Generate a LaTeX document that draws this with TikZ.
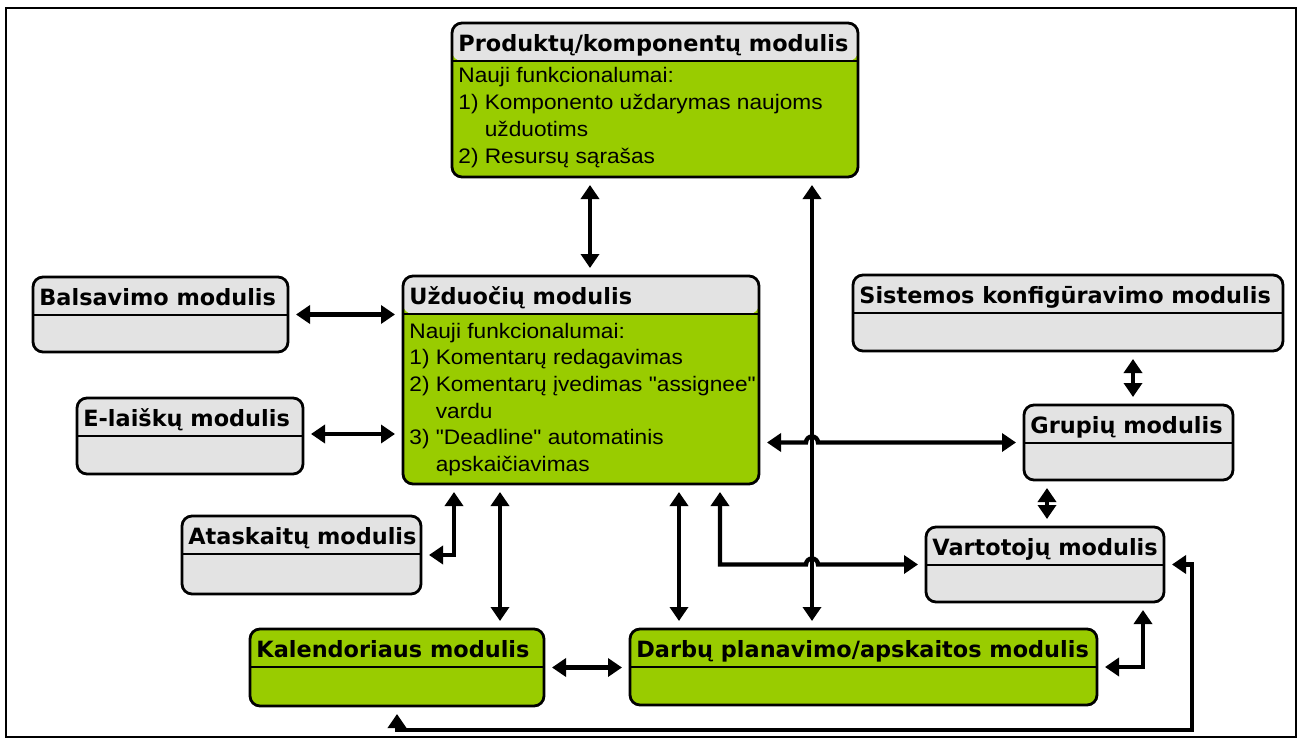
\documentclass[tikz,border=0pt]{standalone}
\usepackage{fontspec}
\setmainfont{Liberation Sans}
\newfontfamily\antrfont{DejaVu Sans}
\newfontfamily\tekstfont[FakeStretch=1.08]{Liberation Sans}
\usetikzlibrary{arrows.meta,fit}
\definecolor{zalia}{RGB}{153,204,0}
\definecolor{pilka}{RGB}{227,227,227}
\tikzstyle{bord}=[line width=1.4pt]
\tikzstyle{deze}=[draw, bord, rounded corners=5pt, inner sep=0pt, outer sep=0pt]
\tikzstyle{antraste}=[anchor=base west, inner sep=0pt, font=\antrfont\bfseries\fontsize{11.2}{13}\selectfont]
\tikzstyle{tekstas}=[anchor=base west, inner sep=0pt, font=\tekstfont\fontsize{10.5}{13.35}\selectfont]
\tikzstyle{rodykle}=[line width=2.2pt, {Triangle[length=7pt,width=9pt]}-{Triangle[length=7pt,width=9pt]}, shorten <=4pt, shorten >=4pt]
% #1 vardas, #2 #3 kampai, #4 antrastes spalva, #5 spalva, #6 pavadinimas
\newcommand{\modulis}[6]{
  \node[deze, fill=#5, fit={(#2) (#3)},
    path picture={\fill[#4] (path picture bounding box.north west) rectangle ([yshift=-19pt]path picture bounding box.north east);
      \draw[bord] ([yshift=-19pt]path picture bounding box.north west) -- ([yshift=-19pt]path picture bounding box.north east);}] (#1) {};
  \node[antraste] (#1-t) at ([shift={(3pt,-14pt)}]#1.north west) {#6};
}

\begin{document}
\begin{tikzpicture}[x=0.5pt,y=-0.5pt]
\useasboundingbox (0,0) rectangle (1303,744);
\draw[line width=1pt] (6,8) rectangle (1296,737);

%moduliai
\modulis{prod}{452,23}{858,177}{pilka}{zalia}{Produktų/komponentų modulis}
\modulis{uzd}{403,276}{759,484}{pilka}{zalia}{Užduočių modulis}
\modulis{bals}{33,277}{288,352}{pilka}{pilka}{Balsavimo modulis}
\modulis{elai}{77,398}{303,474}{pilka}{pilka}{E-laiškų modulis}
\modulis{atas}{182,516}{421,594}{pilka}{pilka}{Ataskaitų modulis}
\modulis{kal}{250,629}{544,706}{zalia}{zalia}{Kalendoriaus modulis}
\modulis{darb}{630,629}{1097,705}{zalia}{zalia}{Darbų planavimo/apskaitos modulis}
\modulis{sist}{853,275}{1283,351}{pilka}{pilka}{Sistemos konfigūravimo modulis}
\modulis{grup}{1024,405}{1233,480}{pilka}{pilka}{Grupių modulis}
\modulis{vart}{926,527}{1164,602}{pilka}{pilka}{Vartotojų modulis}

%funkcionalumai
\node[tekstas] (prod-b) at ([shift={(3pt,-30pt)}]prod.north west) {\parbox[t]{200pt}{Nauji funkcionalumai:\\
1) Komponento uždarymas naujoms\\
\phantom{1) }užduotims\\
2) Resursų sąrašas}};
\node[tekstas] (uzd-b) at ([shift={(3pt,-31pt)}]uzd.north west) {\parbox[t]{200pt}{Nauji funkcionalumai:\\
1) Komentarų redagavimas\\
2) Komentarų įvedimas "assignee"\\
\phantom{2) }vardu\\
3) "Deadline" automatinis\\
\phantom{3) }apskaičiavimas}};

%rodykles
\draw[rodykle] (prod.south -| 590,0) -- (uzd.north -| 590,0);
\draw[rodykle] (prod.south -| 812,0) -- (darb.north -| 812,0);
\draw[rodykle] (bals.east) -- (bals.east -| uzd.west);
\draw[rodykle] (elai.east |- 0,434) -- (uzd.west |- 0,434);
\draw[rodykle] (atas.east) -| (uzd.south -| 454,0);
\draw[rodykle] (uzd.south -| 500,0) -- (kal.north -| 500,0);
\draw[rodykle] (uzd.south -| 679,0) -- (darb.north -| 679,0);
\draw[rodykle] (kal.east) -- (kal.east -| darb.west);
\draw[rodykle] (uzd.east |- grup.west) -- (806,442.5) arc[start angle=180, end angle=360, radius=6] -- (grup.west);
\draw[rodykle] (uzd.south -| 720,0) |- (806,564.5) arc[start angle=180, end angle=360, radius=6] -- (vart.west);
\draw[rodykle] (sist.south -| 1133,0) -- (grup.north -| 1133,0);
\draw[rodykle] (grup.south -| 1047,0) -- (vart.north -| 1047,0);
\draw[rodykle] (darb.east) -| (vart.south -| 1143,0);
\draw[rodykle] (kal.south) |- (1192,730) |- (vart.east);
\end{tikzpicture}
\end{document}
